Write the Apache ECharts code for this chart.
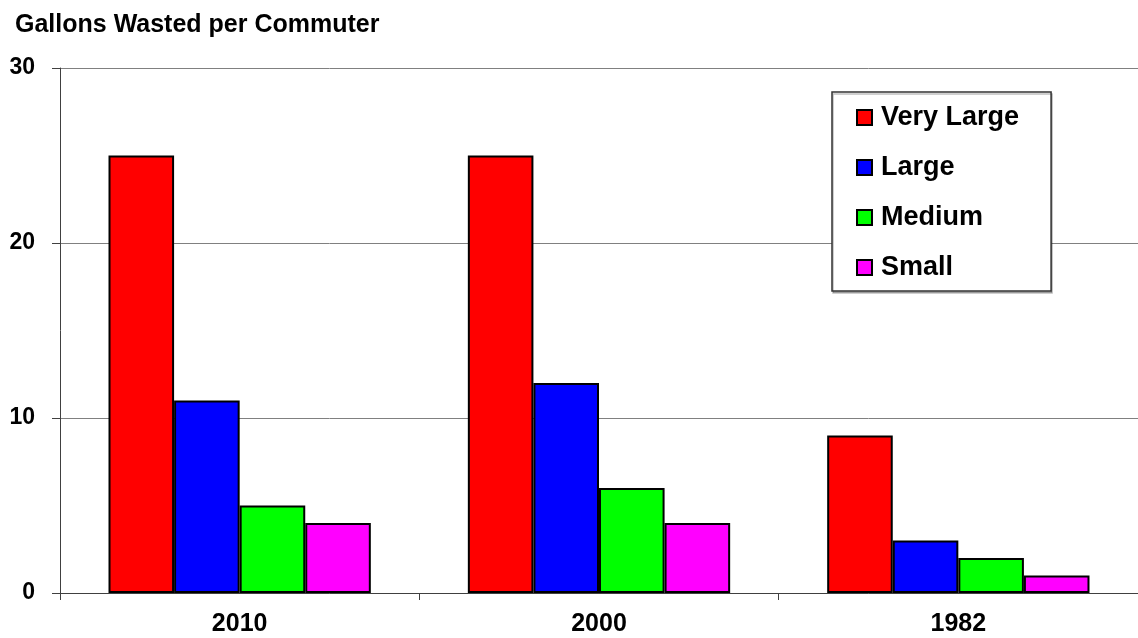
<!DOCTYPE html>
<html>
<head>
<meta charset="utf-8">
<title>Gallons Wasted per Commuter</title>
<script src="https://cdn.jsdelivr.net/npm/echarts@6/dist/echarts.min.js"></script>
<style>
  html, body { margin: 0; padding: 0; background: #fff; }
  #chart { width: 1138px; height: 638px; }
</style>
</head>
<body>
<div id="chart"></div>
<script>
var years = ['2010', '2000', '1982'];
var veryLarge = [25, 25, 9];
var large = [11, 12, 3];
var medium = [5, 6, 2];
var small = [4, 4, 1];
var yTicks = [0, 10, 20, 30];

var font = 'Liberation Sans, Arial, sans-serif';

function bar(name, data, color) {
  return {
    name: name,
    type: 'bar',
    data: data,
    barGap: 0,
    barCategoryGap: '27%',
    itemStyle: {
      color: color,
      borderColor: '#000',
      borderWidth: 2
    }
  };
}

var chart = echarts.init(document.getElementById('chart'));
chart.setOption({
  animation: false,
  backgroundColor: '#fff',
  title: {
    text: 'Gallons Wasted per Commuter',
    left: 10,
    top: 8,
    textStyle: {
      fontFamily: font,
      fontSize: 25,
      lineHeight: 25,
      fontWeight: 'bold',
      color: '#000'
    }
  },
  legend: {
    left: 832,
    top: 92,
    orient: 'vertical',
    icon: 'rect',
    itemWidth: 15,
    itemHeight: 15,
    itemGap: 23,
    padding: [12, 32, 10, 24],
    borderColor: '#333',
    borderWidth: 1.5,
    backgroundColor: '#fff',
    shadowColor: 'rgba(0,0,0,0.25)',
    shadowOffsetX: 1,
    shadowOffsetY: 2,
    shadowBlur: 0,
    itemStyle: {
      borderColor: '#000',
      borderWidth: 2
    },
    textStyle: {
      fontFamily: font,
      fontSize: 27,
      lineHeight: 27,
      fontWeight: 'bold',
      color: '#000',
      padding: [0, 0, 0, 4]
    }
  },
  grid: {
    left: 60,
    right: -11,
    top: 68,
    bottom: 45,
    containLabel: false
  },
  xAxis: {
    type: 'category',
    data: years,
    axisLine: {
      lineStyle: { color: '#404040', width: 1 }
    },
    axisTick: {
      show: true,
      length: 7,
      lineStyle: { color: '#404040' }
    },
    axisLabel: {
      margin: 19,
      fontFamily: font,
      fontSize: 25,
      fontWeight: 'bold',
      color: '#000'
    },
    splitLine: { show: false }
  },
  yAxis: {
    type: 'value',
    min: yTicks[0],
    max: yTicks[yTicks.length - 1],
    interval: yTicks[1] - yTicks[0],
    axisLine: {
      show: true,
      lineStyle: { color: '#404040', width: 1 }
    },
    axisTick: {
      show: true,
      length: 8,
      lineStyle: { color: '#404040' }
    },
    axisLabel: {
      margin: 25,
      fontFamily: font,
      fontSize: 23,
      fontWeight: 'bold',
      color: '#000'
    },
    splitLine: {
      show: true,
      lineStyle: { color: '#808080', width: 1 }
    }
  },
  series: [
    bar('Very Large', veryLarge, '#ff0000'),
    bar('Large', large, '#0000ff'),
    bar('Medium', medium, '#00ff00'),
    bar('Small', small, '#ff00ff')
  ]
});
</script>
</body>
</html>
